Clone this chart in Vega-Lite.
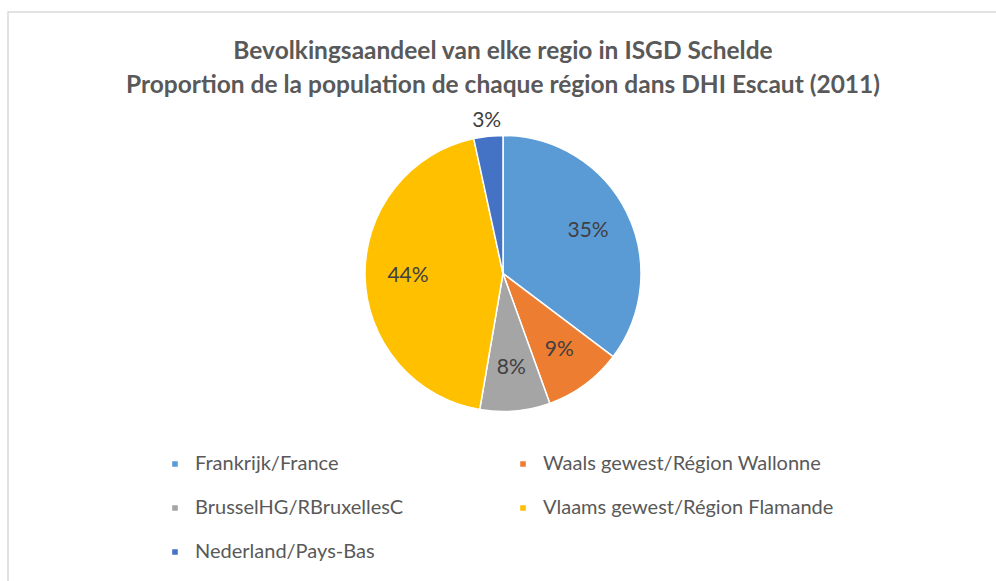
{
  "$schema": "https://vega.github.io/schema/vega-lite/v6.json",
  "autosize": "none",
  "width": 990,
  "height": 571,
  "padding": {"left": 8, "top": 12, "right": 0, "bottom": 0},
  "background": "white",
  "view": {"stroke": "#d9d9d9", "strokeWidth": 1.5},
  "config": {"font": "Lato"},
  "title": {
    "text": ["Bevolkingsaandeel van elke regio in ISGD Schelde", "Proportion de la population de chaque région dans DHI Escaut (2011)"],
    "anchor": "middle",
    "frame": "group",
    "orient": "top",
    "offset": -86,
    "fontSize": 24.5,
    "fontWeight": "bold",
    "color": "#595959",
    "lineHeight": 34,
    "font": "Lato"
  },
  "data": {
    "values": [
      {"region": "Frankrijk/France", "value": 35.3, "label": "35%", "order": 1},
      {"region": "Waals gewest/Région Wallonne", "value": 9.2, "label": "9%", "order": 2},
      {"region": "BrusselHG/RBruxellesC", "value": 8.2, "label": "8%", "order": 3},
      {"region": "Vlaams gewest/Région Flamande", "value": 43.9, "label": "44%", "order": 4},
      {"region": "Nederland/Pays-Bas", "value": 3.4, "label": "3%", "order": 5}
    ]
  },
  "encoding": {
    "theta": {"field": "value", "type": "quantitative", "stack": true},
    "order": {"field": "order", "type": "quantitative"},
    "color": {
      "field": "region",
      "type": "nominal",
      "scale": {
        "domain": ["Frankrijk/France", "BrusselHG/RBruxellesC", "Nederland/Pays-Bas", "Waals gewest/Région Wallonne", "Vlaams gewest/Région Flamande"],
        "range": ["#5B9BD5", "#A5A5A5", "#4472C4", "#ED7D31", "#FFC000"]
      },
      "legend": {
        "orient": "none",
        "legendX": 157,
        "legendY": 442,
        "columns": 2,
        "columnPadding": 109,
        "rowPadding": 24,
        "title": null,
        "symbolType": "square",
        "symbolSize": 50,
        "labelFontSize": 20,
        "labelColor": "#595959",
        "labelOffset": 10,
        "labelLimit": 500,
        "labelFont": "Lato"
      }
    }
  },
  "layer": [
    {"mark": {"type": "arc", "outerRadius": 138, "stroke": "white", "strokeWidth": 1.5, "yOffset": -24}},
    {
      "mark": {"type": "text", "radius": 95, "fontSize": 21, "font": "Lato", "yOffset": -24},
      "encoding": {
        "text": {"condition": {"test": "datum.value >= 5", "field": "label"}, "value": ""},
        "color": {"value": "#404040"}
      }
    },
    {
      "mark": {"type": "text", "radius": 153, "fontSize": 21, "font": "Lato", "yOffset": -24},
      "encoding": {
        "text": {"condition": {"test": "datum.value < 5", "field": "label"}, "value": ""},
        "color": {"value": "#404040"}
      }
    }
  ]
}
